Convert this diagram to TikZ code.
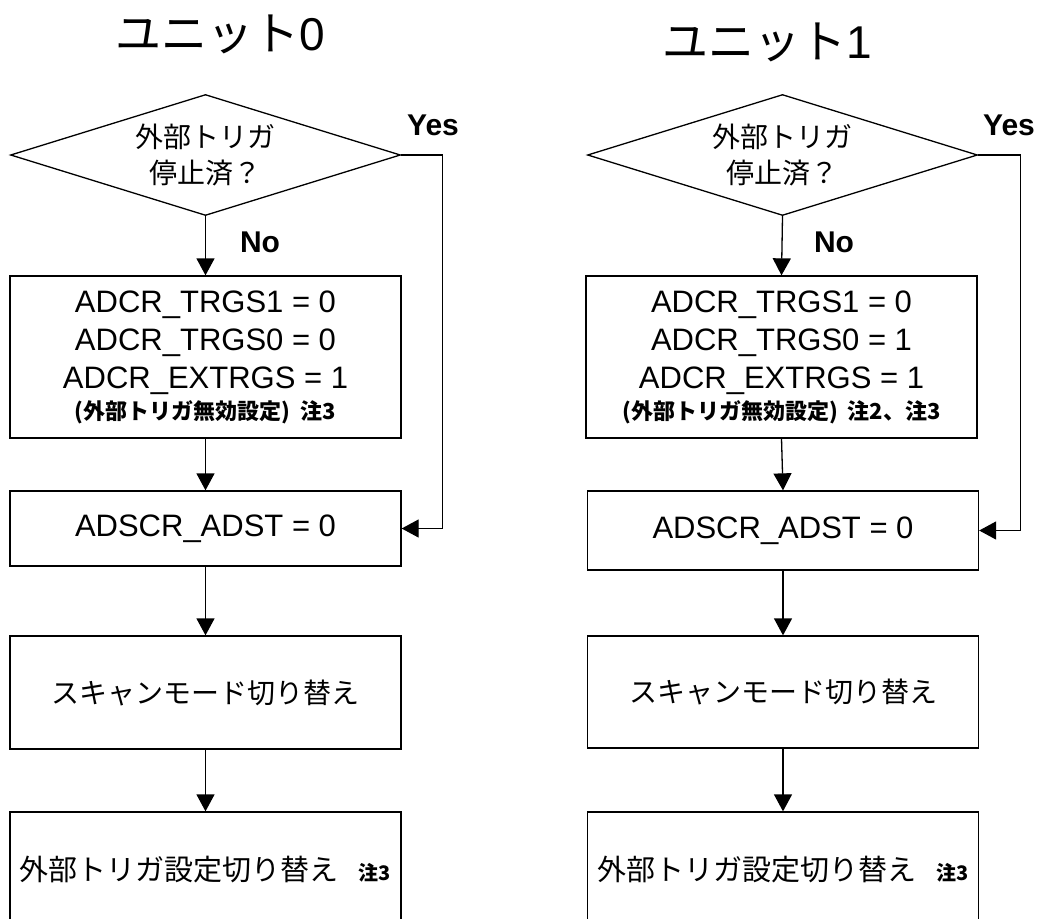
\documentclass[tikz,border=0pt]{standalone}
\usepackage{fontspec}
\setmainfont{Liberation Sans}
\newfontfamily\jp{Noto Sans CJK JP}
\usetikzlibrary{shapes.geometric,arrows.meta}

\begin{document}
\begin{tikzpicture}[x=1pt,y=-1pt,
	procbox/.style={draw,line width=1.3pt,minimum width=391pt,inner sep=0pt,align=center,font=\fontsize{31}{38}\selectfont},
	decision/.style={draw,diamond,line width=1.3pt,minimum width=390pt,minimum height=121pt,aspect=3.2,inner sep=0pt,align=center,font=\jp\fontsize{28}{36}\selectfont},
	flow/.style={line width=1.3pt,-{Triangle[length=17pt,width=18pt]}},
	answer/.style={font=\bfseries\fontsize{30}{36}\selectfont},
	unittitle/.style={font=\fontsize{46}{52}\selectfont}]
	\useasboundingbox (0,0) rectangle (1040,918);
	\clip (0,0) rectangle (1040,918);

	\node[unittitle] (TitleA) at (220,34) {{\jp ユニット}0};
	\node[decision] (TrigStopA) at (205.5,155) {外部トリガ\\停止済？};
	\node[procbox,minimum height=162pt] (SetTrigA) at (205.5,357) {ADCR\_TRGS1 = 0\\ADCR\_TRGS0 = 0\\ADCR\_EXTRGS = 1\\[-7pt]{\jp\bfseries\fontsize{22}{26}\selectfont (外部トリガ無効設定)\ \ 注3}};
	\node[procbox,minimum height=75pt] (StopConvA) at (205.5,528.5) {ADSCR\_ADST = 0};
	\node[procbox,minimum height=113pt,font=\jp\fontsize{28}{34}\selectfont] (ScanModeA) at (205.5,692.5) {スキャンモード切り替え};
	\node[procbox,minimum height=116pt,font=\jp\fontsize{29}{34}\selectfont] (TrigModeA) at (205.5,870) {外部トリガ設定切り替え\hspace{20pt}{\bfseries\fontsize{20}{24}\selectfont 注3}};
	\node[answer] (YesA) at (433,125) {Yes};
	\node[answer] (NoA) at (260,242) {No};

	\draw[flow] (TrigStopA.south) -- (SetTrigA.north);
	\draw[flow] (SetTrigA.south) -- (StopConvA.north);
	\draw[flow] (StopConvA.south) -- (ScanModeA.north);
	\draw[flow] (ScanModeA.south) -- (TrigModeA.north);
	\draw[flow] (TrigStopA.east) -- ++(41.5,0) |- (StopConvA.east);

	\node[unittitle] (TitleB) at (767,42) {{\jp ユニット}1};
	\node[decision] (TrigStopB) at (782.5,155) {外部トリガ\\停止済？};
	\node[procbox,minimum height=162pt] (SetTrigB) at (781.5,357) {ADCR\_TRGS1 = 0\\ADCR\_TRGS0 = 1\\ADCR\_EXTRGS = 1\\[-7pt]{\jp\bfseries\fontsize{22}{26}\selectfont (外部トリガ無効設定)\ \ 注2、注3}};
	\node[procbox,minimum height=79pt] (StopConvB) at (783,530.5) {ADSCR\_ADST = 0};
	\node[procbox,minimum height=112pt,font=\jp\fontsize{28}{34}\selectfont] (ScanModeB) at (783,692) {スキャンモード切り替え};
	\node[procbox,minimum height=116pt,font=\jp\fontsize{29}{34}\selectfont] (TrigModeB) at (783,870) {外部トリガ設定切り替え\hspace{20pt}{\bfseries\fontsize{20}{24}\selectfont 注3}};
	\node[answer] (YesB) at (1009,125) {Yes};
	\node[answer] (NoB) at (834,242) {No};

	\draw[flow] (TrigStopB.south) -- (SetTrigB.north);
	\draw[flow] (SetTrigB.south) -- (StopConvB.north);
	\draw[flow] (StopConvB.south) -- (ScanModeB.north);
	\draw[flow] (ScanModeB.south) -- (TrigModeB.north);
	\draw[flow] (TrigStopB.east) -- ++(42,0) |- (StopConvB.east);
\end{tikzpicture}
\end{document}
